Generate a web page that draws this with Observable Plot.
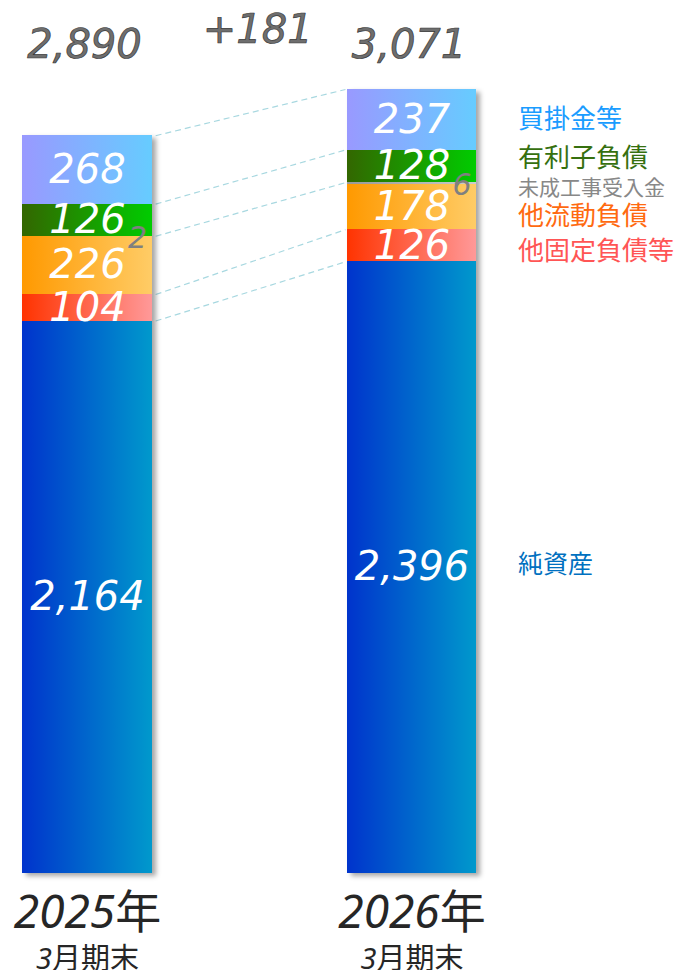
<!DOCTYPE html>
<html><head><meta charset="utf-8">
<script src="https://cdn.jsdelivr.net/npm/d3@7"></script>
<script src="https://cdn.jsdelivr.net/npm/@observablehq/plot@0.6"></script>
<style>
html,body{margin:0;padding:0;background:#fff;}
#chart svg{display:block;}
</style>
</head><body><div id="chart"></div>
<script>
// ---- data ----
const years = ["2025年", "2026年"];
const periodLabel = "3月期末";
const categories = ["純資産", "他固定負債等", "他流動負債", "未成工事受入金", "有利子負債", "買掛金等"];
const values2025 = [2164, 104, 226, 2, 126, 268];
const values2026 = [2396, 126, 178, 6, 128, 237];
const totals = [2890, 3071];

// ---- styles ----
const gradStops = [["#0033cc", "#0099cc"], ["#ff3300", "#ff9999"], ["#ff9900", "#ffcc66"], ["#999999", "#cccccc"], ["#336600", "#00cc00"], ["#9999ff", "#66ccff"]];
const legendColors = ["#0070c0", "#ff5555", "#ff6a10", "#888888", "#36700f", "#1a9cff"];
const legendNudge = [-3, 6, 10, 5, -8, 0];
const legendSize = [25, 26, 26, 21, 26, 26];
const halfWidth = 0.2;
const numFont = "DejaVu Sans, Noto Sans CJK JP, sans-serif";
const jpFont = "Noto Sans CJK JP, sans-serif";

const series = [values2025, values2026];
const segs = [];
series.forEach((vals, i) => {
  let acc = 0;
  vals.forEach((v, k) => {
    segs.push({i, k, cat: categories[k], value: v, y1: acc, y2: acc + v});
    acc += v;
  });
});
const seg = (i, k) => segs.find(s => s.i === i && s.k === k);
const linkKeys = [0, 1, 3, 4, 5];
const links = linkKeys.map(k => ({k, ya: seg(0, k).y2, yb: seg(1, k).y2}));
const mid = d => (d.y1 + d.y2) / 2;
const fmt = d3.format(",");

const marks = [
  Plot.link(links, {x1: () => halfWidth + 0.01, x2: () => 1 - halfWidth - 0.005, y1: "ya", y2: "yb",
    stroke: "#a8d8e0", strokeWidth: 1.2, strokeDasharray: "6,4"}),
  Plot.rect(segs, {x1: d => d.i - halfWidth, x2: d => d.i + halfWidth, y1: "y1", y2: "y2",
    fill: d => `url(#grad${d.k})`}),
  Plot.text(segs.filter(d => d.k !== 3), {x: "i", y: mid, text: d => fmt(d.value),
    fill: "white", fontSize: 40, fontStyle: "italic", fontFamily: numFont}),
  Plot.text(segs.filter(d => d.k === 3), {x: "i", y: mid, dx: 50, dy: 2, text: d => fmt(d.value),
    fill: "#808080", fontSize: 30, fontStyle: "italic", fontFamily: numFont}),
  Plot.text(totals, {x: (d, i) => i, frameAnchor: "top", lineAnchor: "middle", dy: -44, dx: -3, text: d => fmt(d),
    fill: "#6e6e6e", stroke: "#383838", strokeWidth: 0.7, paintOrder: "fill",
    fontSize: 40, fontStyle: "italic", fontFamily: numFont}),
  Plot.text([totals[1] - totals[0]], {x: () => 0.5, frameAnchor: "top", lineAnchor: "middle", dy: -59, dx: 8, text: d => "+" + d,
    fill: "#6e6e6e", stroke: "#383838", strokeWidth: 0.7, paintOrder: "fill",
    fontSize: 40, fontStyle: "italic", fontFamily: numFont}),
  ...categories.map((c, k) => Plot.text([seg(1, k)], {x: "i", y: mid, dx: 106, dy: legendNudge[k],
    text: d => d.cat, textAnchor: "start", fill: legendColors[k], fontSize: legendSize[k], fontFamily: jpFont})),
  Plot.text(years, {x: (d, i) => i, frameAnchor: "bottom", lineAnchor: "middle", dy: 40, text: d => d,
    fill: "#262626", fontSize: 46, fontStyle: "italic", fontFamily: "Noto Sans, Noto Sans CJK JP, sans-serif"}),
  Plot.text(years, {x: (d, i) => i, frameAnchor: "bottom", lineAnchor: "middle", dy: 86, text: () => periodLabel,
    fill: "#262626", fontSize: 29, fontStyle: "italic", fontFamily: "Noto Sans, Noto Sans CJK JP, sans-serif"})
];

const svg = Plot.plot({
  width: 678, height: 970,
  marginTop: 89, marginBottom: 97, marginLeft: 0, marginRight: 0,
  x: {domain: [0, 1], range: [87, 411.5], axis: null},
  y: {domain: [0, d3.max(totals)], axis: null},
  color: {type: "identity"},
  style: {background: "white", overflow: "visible"},
  marks
});

const s = d3.select(svg);
const defs = s.insert("defs", ":first-child");
gradStops.forEach((st, k) => {
  const g = defs.append("linearGradient").attr("id", `grad${k}`).attr("x1", 0).attr("x2", 1).attr("y1", 0).attr("y2", 0);
  g.append("stop").attr("offset", "0%").attr("stop-color", st[0]);
  g.append("stop").attr("offset", "100%").attr("stop-color", st[1]);
});
s.select('g[aria-label="rect"]').style("filter", "drop-shadow(4px 3px 2.5px rgba(0,0,0,0.35))")
  .attr("shape-rendering", "crispEdges");
// year / period labels: digits italic, kanji upright
const textGroups = s.selectAll('g[aria-label="text"]').nodes();
textGroups.slice(-2).forEach(gn => {
  d3.select(gn).selectAll("text").each(function() {
    const t = d3.select(this);
    const str = t.text();
    const m = str.match(/^(\d+)(.*)$/);
    if (!m) return;
    t.text(null);
    t.append("tspan").style("font-style", "italic").text(m[1]);
    t.append("tspan").style("font-style", "normal").style("font-family", jpFont).text(m[2]);
  });
});
document.getElementById("chart").appendChild(svg);
</script>
</body></html>
